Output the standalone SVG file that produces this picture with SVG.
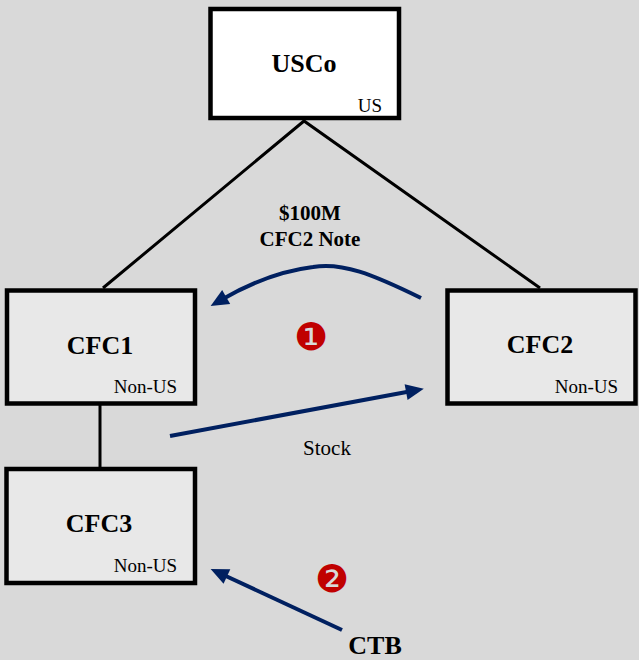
<svg xmlns="http://www.w3.org/2000/svg" width="639" height="660" viewBox="0 0 639 660">
  <style>
    .box { stroke: #000; stroke-width: 4.5; }
    .co { fill: #e8e8e8; }
    .us { fill: #fff; }
    .name { font-family: "Liberation Serif", serif; font-weight: bold; font-size: 26px; text-anchor: middle; fill: #000; }
    .juris { font-family: "Liberation Serif", serif; font-size: 19px; text-anchor: end; fill: #000; }
    .label { font-family: "Liberation Serif", serif; font-size: 21px; text-anchor: middle; fill: #000; }
    .bold { font-weight: bold; }
    .own { stroke: #000; stroke-width: 3; fill: none; }
    .flow { stroke: #002060; stroke-width: 4; fill: none; marker-end: url(#head); }
    .step { font-family: "DejaVu Sans", sans-serif; font-size: 38px; text-anchor: middle; fill: #c00000; }
  </style>
  <defs>
    <marker id="head" markerUnits="userSpaceOnUse" markerWidth="18" markerHeight="16" refX="6" refY="8" orient="auto" overflow="visible">
      <path d="M0,0 L18,8 L0,16 z" fill="#002060"/>
    </marker>
  </defs>

  <rect width="639" height="660" fill="#d9d9d9"/>

  <g id="connectors">
    <path class="own" d="M103,288 L304,121 L540,288"/>
    <path class="own" d="M100,405 L100,467"/>
    <path class="flow" d="M421,298 C372,274 342,262 313,267 C280,271 252,282 221,300"/>
    <path class="flow" d="M170,436 L412,391"/>
    <path class="flow" d="M342,630 L221.5,574"/>
  </g>

  <g id="usco">
    <rect class="box us" x="210.5" y="9" width="188.5" height="109"/>
    <text class="name" x="304" y="72">USCo</text>
    <text class="juris" x="382" y="112">US</text>
  </g>

  <g id="cfc1">
    <rect class="box co" x="7" y="290.5" width="188" height="113"/>
    <text class="name" x="100" y="354">CFC1</text>
    <text class="juris" x="177" y="393">Non-US</text>
  </g>

  <g id="cfc2">
    <rect class="box co" x="447.5" y="290.5" width="188" height="113"/>
    <text class="name" x="540" y="353">CFC2</text>
    <text class="juris" x="618" y="393">Non-US</text>
  </g>

  <g id="cfc3">
    <rect class="box co" x="6.5" y="469" width="188.5" height="114"/>
    <text class="name" x="99" y="532">CFC3</text>
    <text class="juris" x="177" y="572">Non-US</text>
  </g>

  <g id="labels">
    <text class="label bold" x="310" y="220" font-size="22">$100M</text>
    <text class="label bold" x="310" y="246">CFC2 Note</text>
    <text class="label" x="327" y="455">Stock</text>
    <text class="name" x="375" y="654">CTB</text>
    <text class="step" x="311" y="350">❶</text>
    <text class="step" x="332" y="592">❷</text>
  </g>
</svg>
